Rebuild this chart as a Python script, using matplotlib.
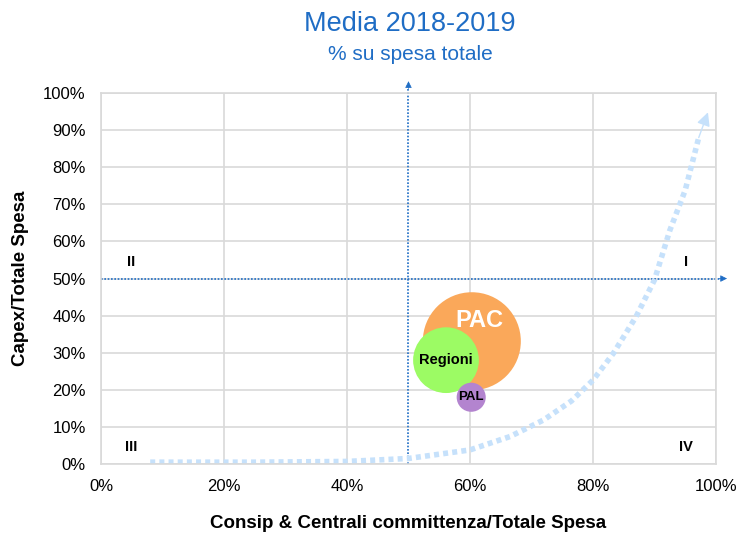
import matplotlib
matplotlib.use("Agg")
import matplotlib.pyplot as plt
import numpy as np
from matplotlib.ticker import PercentFormatter

plt.rcParams['font.family'] = ['Liberation Sans', 'DejaVu Sans']

# dati (quote su spesa totale, media 2018-2019)
enti = ["PAC", "Regioni", "PAL"]
consip_quota = [0.603, 0.561, 0.602]
capex_quota = [0.331, 0.280, 0.180]
peso_bolla = [100, 45, 8.8]
colori_bolla = ["#FAA85A", "#9CFB64", "#B384CF"]

# curva di tendenza
trend_x = [0.08, 0.25, 0.40, 0.50, 0.60, 0.665, 0.72, 0.765, 0.80, 0.833, 0.87, 0.90, 0.925, 0.95, 0.972]
trend_y = [0.005, 0.005, 0.007, 0.015, 0.038, 0.074, 0.119, 0.17, 0.226, 0.298, 0.397, 0.496, 0.63, 0.738, 0.88]
trend_tip = (0.987, 0.948)

quadranti = ["I", "II", "III", "IV"]
quad_x = [0.951, 0.049, 0.049, 0.951]
quad_y = [0.545, 0.545, 0.046, 0.046]

blu = "#1F6DC5"
azzurro = "#C6E1FB"
grigio = "#D9D9D9"

fig = plt.figure(figsize=(7.4, 5.38), dpi=100)
ax = fig.add_axes([0.1365, 0.1375, 0.831, 0.6895])

ax.set_xlim(0, 1)
ax.set_ylim(0, 1)
ax.set_xticks(np.arange(0, 1.01, 0.2))
ax.set_yticks(np.arange(0, 1.01, 0.1))
ax.xaxis.set_major_formatter(PercentFormatter(1.0, decimals=0))
ax.yaxis.set_major_formatter(PercentFormatter(1.0, decimals=0))
ax.grid(True, color=grigio, linewidth=1.2)
ax.set_axisbelow(True)
for s in ax.spines.values():
    s.set_color(grigio)
    s.set_linewidth(1.2)
ax.tick_params(length=0, labelsize=12, colors="black")
ax.tick_params(axis="x", pad=11)
ax.tick_params(axis="y", pad=11)

# assi dei quadranti (linee punteggiate + punta)
ax.plot([0.5, 0.5], [0, 1.02], color=blu, lw=1.2, linestyle=(0, (1, 1)), clip_on=False, zorder=1.5)
ax.plot([0, 1.01], [0.5, 0.5], color=blu, lw=1.2, linestyle=(0, (1, 1)), clip_on=False, zorder=1.5)
ax.annotate("", xy=(0.5, 1.032), xytext=(0.5, 1.012),
            arrowprops=dict(arrowstyle="-|>", color=blu, lw=0.5, mutation_scale=10,
                            shrinkA=0, shrinkB=0), annotation_clip=False)
ax.annotate("", xy=(1.018, 0.5), xytext=(1.004, 0.5),
            arrowprops=dict(arrowstyle="-|>", color=blu, lw=0.5, mutation_scale=10,
                            shrinkA=0, shrinkB=0), annotation_clip=False)

# curva di tendenza
ax.plot(trend_x, trend_y, color=azzurro, lw=4, linestyle=(0, (0.9, 0.75)),
        dash_capstyle="butt", zorder=2)
ax.annotate("", xy=trend_tip, xytext=(trend_x[-1], trend_y[-1]),
            arrowprops=dict(arrowstyle="-|>", color=azzurro, lw=1, mutation_scale=20,
                            shrinkA=0, shrinkB=0), zorder=2)

# bolle
ax.scatter(consip_quota, capex_quota, s=np.array(peso_bolla) * 49.8,
           c=colori_bolla, edgecolors="none", zorder=3, clip_on=False)
ax.text(consip_quota[0] + 0.013, capex_quota[0] + 0.057, enti[0], color="white",
        fontsize=17, fontweight="bold", ha="center", va="center", zorder=4)
ax.text(consip_quota[1], capex_quota[1], enti[1], color="black",
        fontsize=10.5, fontweight="bold", ha="center", va="center", zorder=4)
ax.text(consip_quota[2], capex_quota[2], enti[2], color="black",
        fontsize=9.5, fontweight="bold", ha="center", va="center", zorder=4)

for q, qx, qy in zip(quadranti, quad_x, quad_y):
    ax.text(qx, qy, q, fontsize=10.5, fontweight="bold", ha="center", va="center")

ax.set_xlabel("Consip & Centrali committenza/Totale Spesa", fontsize=13.5,
              fontweight="bold", labelpad=15)
ax.set_ylabel("Capex/Totale Spesa", fontsize=13.5, fontweight="bold", labelpad=10)

fig.text(0.554, 0.955, "Media 2018-2019", color=blu, fontsize=19.5, ha="center", va="center")
fig.text(0.554, 0.899, "% su spesa totale", color=blu, fontsize=15, ha="center", va="center")

fig.savefig("out.png", dpi=100)
